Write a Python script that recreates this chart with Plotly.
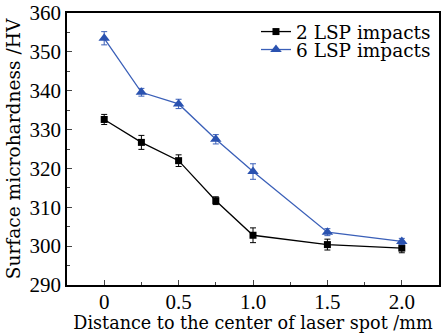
import plotly.graph_objects as go

distance = [0, 0.25, 0.5, 0.75, 1.0, 1.5, 2.0]
hv_2 = [332.6, 326.7, 322.0, 311.7, 302.8, 300.4, 299.5]
err_2 = [1.3, 1.8, 1.5, 1.0, 1.9, 1.4, 1.2]
hv_6 = [353.5, 339.6, 336.6, 327.5, 319.2, 303.6, 301.2]
err_6 = [1.7, 1.0, 1.2, 1.2, 2.0, 0.9, 0.8]

title_font = "DejaVu Serif, serif"
tick_font = "Liberation Serif, Times New Roman, serif"

fig = go.Figure()
fig.add_trace(go.Scatter(
    x=distance, y=hv_2, name="2 LSP impacts", mode="lines+markers",
    line=dict(color="black", width=1.3),
    marker=dict(symbol="square", size=7, color="black"),
    error_y=dict(type="data", array=err_2, color="black", thickness=1, width=3),
    legend="legend",
))
fig.add_trace(go.Scatter(
    x=distance, y=hv_6, name="6 LSP impacts", mode="lines+markers",
    line=dict(color="#3a5fb8", width=1.3),
    marker=dict(symbol="triangle-up", size=10, color="#2a52b0"),
    error_y=dict(type="data", array=err_6, color="#3a5fb8", thickness=1, width=3),
    legend="legend2",
))

leg_common = dict(xanchor="left", yanchor="middle", bgcolor="rgba(0,0,0,0)",
                  font=dict(family=title_font, size=18.5), itemwidth=30,
                  borderwidth=0)

fig.update_layout(
    width=442, height=333,
    margin=dict(l=67, r=1, t=13, b=48),
    paper_bgcolor="white", plot_bgcolor="white",
    font=dict(family=title_font, size=18, color="black"),
    showlegend=True,
    legend=dict(x=0.508, y=0.930, **leg_common),
    legend2=dict(x=0.508, y=0.864, **leg_common),
)
fig.update_xaxes(
    range=[-0.25, 2.25], tickvals=[0, 0.5, 1.0, 1.5, 2.0],
    ticktext=["0", "0.5", "1.0", "1.5", "2.0"],
    tickfont=dict(family=tick_font, size=21),
    ticklabelstandoff=-3,
    ticks="inside", ticklen=5, tickwidth=1.2,
    minor=dict(dtick=0.25, tick0=0, ticks="inside", ticklen=3, tickwidth=1),
    showline=True, linecolor="black", linewidth=1.5, mirror=True,
    showgrid=False, zeroline=False,
    title=dict(text="Distance to the center of laser spot /mm", standoff=2,
               font=dict(family=title_font, size=17.6)),
)
fig.update_yaxes(
    range=[290, 360], dtick=10, tick0=290,
    tickfont=dict(family=tick_font, size=21),
    ticks="inside", ticklen=5, tickwidth=1.2,
    minor=dict(dtick=5, ticks="inside", ticklen=3, tickwidth=1),
    showline=True, linecolor="black", linewidth=1.5, mirror=True,
    showgrid=False, zeroline=False,
    title=dict(text="Surface microhardness /HV", standoff=4,
               font=dict(family=title_font, size=18.6)),
)

fig.write_html("out.html")
